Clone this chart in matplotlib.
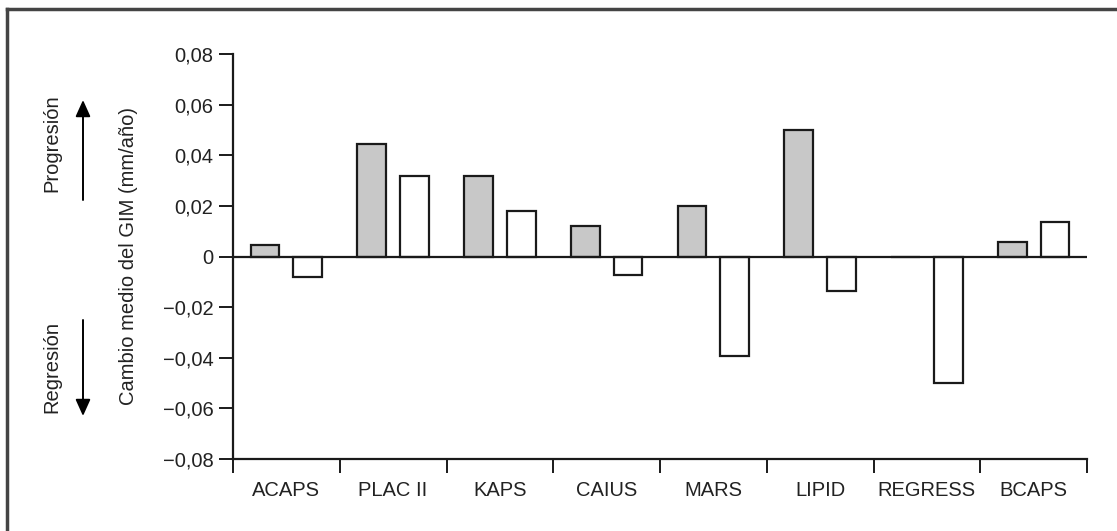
import matplotlib.pyplot as plt
from matplotlib.lines import Line2D
from matplotlib.patches import FancyArrowPatch

# Data
estudios = ['ACAPS', 'PLAC II', 'KAPS', 'CAIUS', 'MARS', 'LIPID', 'REGRESS', 'BCAPS']
control = [0.0045, 0.0445, 0.032, 0.0122, 0.0201, 0.050, 0.0, 0.0059]
tratamiento = [-0.0081, 0.0319, 0.018, -0.0075, -0.0395, -0.0137, -0.050, 0.0138]
yticks = [0.08, 0.06, 0.04, 0.02, 0, -0.02, -0.04, -0.06, -0.08]
ytick_labels = ['0,08', '0,06', '0,04', '0,02', '0', '\u22120,02', '\u22120,04', '\u22120,06', '\u22120,08']

W, H = 1117, 531
plt.rcParams['font.family'] = ['Liberation Sans', 'DejaVu Sans']
fs = 14.5
fig = plt.figure(figsize=(W / 100, H / 100), dpi=100)
ax = fig.add_axes([233 / W, 1 - 459 / H, (1087 - 233) / W, (459 - 54) / H])

x = list(range(len(estudios)))
ancho = 0.27
off = 0.2
ax.bar([i - off for i in x], control, ancho, color='#c8c8c8', edgecolor='#1a1a1a', linewidth=1.6, zorder=3)
ax.bar([i + off for i in x], tratamiento, ancho, color='white', edgecolor='#1a1a1a', linewidth=1.6, zorder=3)
ax.axhline(0, color='#1a1a1a', linewidth=1.6, zorder=4)

ax.set_xlim(-0.5, len(estudios) - 0.5)
ax.set_ylim(-0.08, 0.08)
ax.set_yticks(yticks)
ax.set_yticklabels(ytick_labels)

# ticks at category boundaries, labels centred
ax.set_xticks([i - 0.5 for i in range(len(estudios) + 1)])
ax.set_xticklabels([])
ax.set_xticks(x, minor=True)
ax.set_xticklabels(estudios, minor=True)
ax.tick_params(axis='x', which='major', length=10, width=1.4, direction='out', color='#1a1a1a')
ax.tick_params(axis='x', which='minor', length=0, pad=16, labelsize=fs, labelcolor='#222222')
ax.tick_params(axis='y', length=10, width=1.4, direction='out', color='#1a1a1a', pad=4,
               labelsize=fs, labelcolor='#222222')

for s in ['top', 'right']:
    ax.spines[s].set_visible(False)
for s in ['left', 'bottom']:
    ax.spines[s].set_linewidth(1.6)
    ax.spines[s].set_color('#1a1a1a')

fig.text(129 / W, 1 - 256 / H, 'Cambio medio del GIM (mm/año)', rotation=90,
         ha='center', va='center', fontsize=fs, color='#222222')
fig.text(52 / W, 1 - 143 / H, 'Progresión', rotation=90, ha='center', va='center',
         fontsize=fs, color='#222222')
fig.text(52 / W, 1 - 367 / H, 'Regresión', rotation=90, ha='center', va='center',
         fontsize=fs, color='#222222')

flecha = dict(arrowstyle='-|>,head_length=1.0,head_width=0.45', mutation_scale=10,
              color='black', lw=1.4, shrinkA=0, shrinkB=0, transform=fig.transFigure)
fig.add_artist(FancyArrowPatch((83 / W, 1 - 200 / H), (83 / W, 1 - 100 / H), **flecha))
fig.add_artist(FancyArrowPatch((83 / W, 1 - 320 / H), (83 / W, 1 - 416 / H), **flecha))

# outer frame (only top and left edges visible in the crop)
fig.add_artist(Line2D([7 / W, 1], [1 - 9 / H, 1 - 9 / H], transform=fig.transFigure,
                      color='#444444', linewidth=2.5))
fig.add_artist(Line2D([7 / W, 7 / W], [0, 1 - 9 / H], transform=fig.transFigure,
                      color='#444444', linewidth=2.5))

fig.savefig('out.png', dpi=100, facecolor='white')
